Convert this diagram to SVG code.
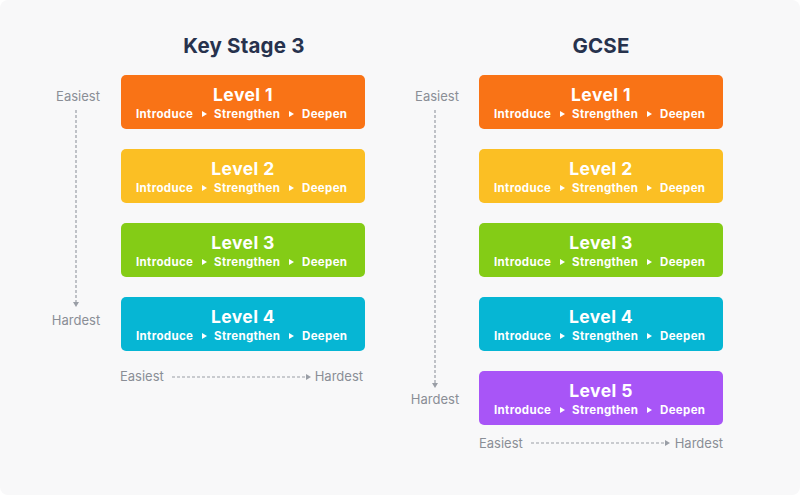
<svg xmlns="http://www.w3.org/2000/svg" width="800" height="495" viewBox="0 0 800 495">
<style>
.title{font-family:Inter,"Liberation Sans",sans-serif;font-weight:700;font-size:20.5px;letter-spacing:0.2px;fill:#27324d;text-anchor:middle}
.lvl{font-family:Inter,"Liberation Sans",sans-serif;font-weight:700;font-size:17.5px;letter-spacing:0.4px;fill:#fff;text-anchor:middle}
.sub{font-family:Inter,"Liberation Sans",sans-serif;font-weight:700;font-size:11.5px;letter-spacing:0.35px;fill:#fff}
.ax{font-family:Inter,"Liberation Sans",sans-serif;font-size:13px;fill:#8a8e96}
.tri{fill:#fff}
.dash{stroke:#9a9ea6;stroke-width:1.2;stroke-dasharray:3 2;fill:none}
.arr{fill:#9a9ea6}
</style>
<defs>
<g id="subline">
<text class="sub" x="15" y="43">Introduce</text>
<polygon class="tri" points="81,36 86,39 81,42"/>
<text class="sub" x="93" y="43">Strengthen</text>
<polygon class="tri" points="168,36 173,39 168,42"/>
<text class="sub" x="181" y="43">Deepen</text>
</g>
</defs>
<rect x="0" y="0" width="800" height="495" rx="8" fill="#f8f8f9"/>
<text class="title" x="244" y="53">Key Stage 3</text>
<text class="title" x="601" y="53">GCSE</text>

<g id="ks3-level1" transform="translate(121,75)"><rect width="244" height="54" rx="5" fill="#f97316"/><text class="lvl" x="122" y="26">Level 1</text><use href="#subline"/></g>
<g id="ks3-level2" transform="translate(121,149)"><rect width="244" height="54" rx="5" fill="#fbbf24"/><text class="lvl" x="122" y="26">Level 2</text><use href="#subline"/></g>
<g id="ks3-level3" transform="translate(121,223)"><rect width="244" height="54" rx="5" fill="#84cc16"/><text class="lvl" x="122" y="26">Level 3</text><use href="#subline"/></g>
<g id="ks3-level4" transform="translate(121,297)"><rect width="244" height="54" rx="5" fill="#06b6d4"/><text class="lvl" x="122" y="26">Level 4</text><use href="#subline"/></g>

<g id="gcse-level1" transform="translate(479,75)"><rect width="244" height="54" rx="5" fill="#f97316"/><text class="lvl" x="122" y="26">Level 1</text><use href="#subline"/></g>
<g id="gcse-level2" transform="translate(479,149)"><rect width="244" height="54" rx="5" fill="#fbbf24"/><text class="lvl" x="122" y="26">Level 2</text><use href="#subline"/></g>
<g id="gcse-level3" transform="translate(479,223)"><rect width="244" height="54" rx="5" fill="#84cc16"/><text class="lvl" x="122" y="26">Level 3</text><use href="#subline"/></g>
<g id="gcse-level4" transform="translate(479,297)"><rect width="244" height="54" rx="5" fill="#06b6d4"/><text class="lvl" x="122" y="26">Level 4</text><use href="#subline"/></g>
<g id="gcse-level5" transform="translate(479,371)"><rect width="244" height="54" rx="5" fill="#a855f7"/><text class="lvl" x="122" y="26">Level 5</text><use href="#subline"/></g>

<g id="axes">
<text class="ax" x="78" y="101" text-anchor="middle">Easiest</text>
<line class="dash" x1="76" y1="110" x2="76" y2="302"/>
<polygon class="arr" points="73,302 79,302 76,307"/>
<text class="ax" x="76" y="325" text-anchor="middle">Hardest</text>
<text class="ax" x="120" y="381">Easiest</text>
<line class="dash" x1="172" y1="377" x2="306" y2="377"/>
<polygon class="arr" points="306,374 306,380 311,377"/>
<text class="ax" x="363" y="381" text-anchor="end">Hardest</text>

<text class="ax" x="437" y="101" text-anchor="middle">Easiest</text>
<line class="dash" x1="435" y1="110" x2="435" y2="383"/>
<polygon class="arr" points="432,383 438,383 435,388"/>
<text class="ax" x="435" y="404" text-anchor="middle">Hardest</text>
<text class="ax" x="479" y="448">Easiest</text>
<line class="dash" x1="531" y1="443" x2="665" y2="443"/>
<polygon class="arr" points="665,440 665,446 670,443"/>
<text class="ax" x="723" y="448" text-anchor="end">Hardest</text>
</g>
</svg>
